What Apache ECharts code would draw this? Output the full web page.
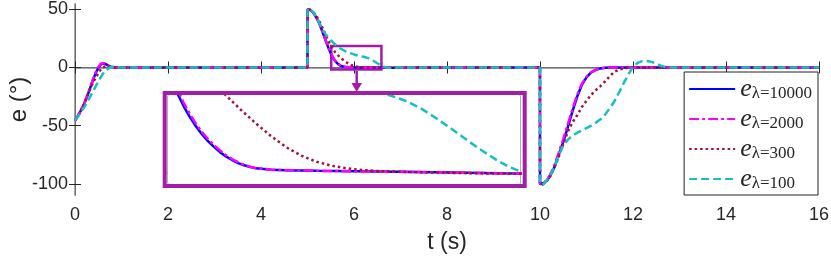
<!DOCTYPE html>
<html>
<head>
<meta charset="utf-8">
<script src="https://cdn.jsdelivr.net/npm/echarts@6/dist/echarts.min.js"></script>
<style>
  html, body { margin: 0; padding: 0; background: #fff; }
  #viz { width: 831px; height: 260px; }
</style>
</head>
<body>
<div id="viz"></div>
<script>
// error e(t) for each lambda: [t (s), e (deg)]
const e10000 = [
  [0, -45.5], [0.05, -42.5], [0.1, -39], [0.15, -35], [0.2, -31], [0.25, -26], [0.3, -20.5], [0.35, -15],
  [0.4, -9.5], [0.45, -4.5], [0.5, -0.5], [0.55, 2.3], [0.6, 3.5], [0.65, 3.2], [0.7, 2.0], [0.75, 0.9],
  [0.8, 0.3], [0.9, 0],
  [4.999, 0], [5, 50], [5.05, 49.5], [5.1, 48], [5.15, 45.5], [5.2, 42], [5.25, 38], [5.3, 33], [5.35, 27.5],
  [5.4, 22], [5.45, 16.8], [5.5, 12.3], [5.52, 10.5], [5.54, 8.9], [5.56, 7.5], [5.58, 6.3], [5.6, 5.25],
  [5.62, 4.35], [5.64, 3.55], [5.66, 2.9], [5.68, 2.3], [5.7, 1.8], [5.72, 1.4], [5.74, 1.05], [5.76, 0.8],
  [5.78, 0.6], [5.8, 0.45], [5.85, 0.3], [5.9, 0.24], [6.0, 0.17], [6.2, 0.08], [6.4, 0], [6.6, -0.12],
  [6.8, -0.15], [7.2, 0],
  [9.999, 0], [10, -100], [10.03, -100.8], [10.1, -99], [10.2, -94.5], [10.3, -86.5], [10.4, -75.5],
  [10.5, -64], [10.6, -51], [10.7, -37.5], [10.8, -25], [10.9, -15], [11.0, -8.5], [11.1, -4.3], [11.2, -2],
  [11.3, -0.8], [11.4, -0.3], [11.5, 0], [16, 0]
];
const e2000 = [
  [0, -45.5], [0.05, -42.3], [0.1, -38.7], [0.15, -34.6], [0.2, -30.5], [0.25, -25.3], [0.3, -19.8], [0.35, -14.2],
  [0.4, -8.8], [0.45, -3.8], [0.5, 0.2], [0.55, 3.0], [0.6, 3.8], [0.65, 3.2], [0.7, 1.8], [0.75, 0.7],
  [0.8, 0.2], [0.9, 0],
  [4.999, 0], [5, 50], [5.05, 49.6], [5.1, 48.2], [5.15, 45.8], [5.2, 42.4], [5.25, 38.5], [5.3, 33.5], [5.35, 28],
  [5.4, 22.6], [5.45, 17.4], [5.5, 12.8], [5.52, 11.0], [5.54, 9.35], [5.56, 7.9], [5.58, 6.65], [5.6, 5.55],
  [5.62, 4.6], [5.64, 3.8], [5.66, 3.1], [5.68, 2.5], [5.7, 1.95], [5.72, 1.5], [5.74, 1.15], [5.76, 0.85],
  [5.78, 0.63], [5.8, 0.47], [5.85, 0.3], [5.9, 0.24], [6.0, 0.17], [6.2, 0.08], [6.4, 0], [6.6, -0.12],
  [6.8, -0.15], [7.2, 0],
  [9.999, 0], [10, -100], [10.03, -100.6], [10.1, -98.5], [10.2, -93.5], [10.3, -85], [10.4, -73.5],
  [10.5, -61.5], [10.6, -48.5], [10.7, -35.5], [10.8, -23.5], [10.9, -14], [11.0, -8], [11.1, -4], [11.2, -1.8],
  [11.3, -0.7], [11.4, -0.2], [11.5, 0], [16, 0]
];
const e300 = [
  [0, -45.5], [0.1, -39.5], [0.2, -31], [0.3, -21], [0.4, -12], [0.5, -5], [0.55, -2], [0.6, 0],
  [0.65, 1.0], [0.7, 1.2], [0.75, 0.8], [0.8, 0.3], [0.9, 0],
  [4.999, 0], [5, 50], [5.05, 49.6], [5.1, 48.3], [5.15, 46.2], [5.2, 43.5], [5.25, 40], [5.3, 36], [5.35, 31.5],
  [5.4, 27], [5.45, 22.7], [5.5, 18.8], [5.55, 15.5], [5.6, 12.8], [5.65, 10.6], [5.7, 8.75], [5.75, 7.1],
  [5.8, 5.55], [5.85, 4.1], [5.9, 2.85], [5.95, 1.9], [6.0, 1.2], [6.05, 0.75], [6.1, 0.45], [6.15, 0.27],
  [6.2, 0.15], [6.3, 0.04], [6.4, -0.03], [6.5, -0.1], [6.68, -0.17], [6.9, -0.1], [7.2, 0],
  [9.999, 0], [10, -100], [10.05, -100.5], [10.1, -99.5], [10.2, -95], [10.3, -87], [10.4, -77], [10.5, -66],
  [10.6, -55], [10.7, -47], [10.8, -41], [10.9, -34], [11.0, -28.5], [11.1, -23.5], [11.2, -19.5], [11.3, -16],
  [11.4, -12], [11.5, -7.5], [11.6, -3.7], [11.7, -1.8], [11.8, -0.8], [11.9, -0.2], [12.0, 0], [16, 0]
];
const e100 = [
  [0, -45.5], [0.1, -40], [0.2, -34], [0.3, -27], [0.4, -19.5], [0.5, -12], [0.6, -5.5], [0.7, -1.5],
  [0.75, 0], [0.8, 0.6], [0.85, 0.5], [0.95, 0.1], [1.05, 0],
  [4.999, 0], [5, 50.5], [5.05, 50], [5.1, 48.5], [5.15, 46], [5.2, 42.5], [5.25, 38.5], [5.3, 34.5], [5.35, 31],
  [5.4, 28], [5.5, 23.5], [5.6, 19.5], [5.7, 16.5], [5.8, 14.2], [5.9, 12.5], [6.0, 11.2], [6.1, 10.1],
  [6.15, 9.6], [6.2, 9.15], [6.25, 8.7], [6.3, 8.1], [6.35, 7.2], [6.4, 6.1], [6.45, 4.9], [6.5, 3.65],
  [6.55, 2.45], [6.6, 1.35], [6.64, 0.6], [6.68, 0.05], [6.72, -0.15], [6.8, -0.2], [6.9, -0.1], [7.0, 0],
  [9.999, 0], [10, -100], [10.05, -100.5], [10.1, -99], [10.2, -94], [10.3, -86], [10.4, -76], [10.5, -67],
  [10.6, -62], [10.7, -58.5], [10.8, -56], [10.9, -54], [11.0, -52], [11.1, -50], [11.2, -47.5], [11.3, -44.5],
  [11.4, -40.5], [11.5, -35], [11.6, -29], [11.7, -21.5], [11.8, -13.5], [11.9, -6], [12.0, 0.5], [12.1, 4],
  [12.2, 5.5], [12.3, 5.6], [12.4, 4.8], [12.5, 3.2], [12.6, 1.5], [12.7, 0.4], [12.8, 0], [16, 0]
];

const names = ['e_λ=10000', 'e_λ=2000', 'e_λ=300', 'e_λ=100'];
const yTicks = [-100, -50, 0, 50];
const insetXTicks = [5.6, 5.7, 5.8, 5.9, 6.0, 6.1, 6.2, 6.3, 6.4, 6.5, 6.6];
const insetYTicks = [0, 2, 6, 8];
// region of the main plot that the inset magnifies
const zoomBoxT = [5.51, 6.59];
const zoomBoxE = [-1.7, 18.4];

const curves = [e10000, e2000, e300, e100];
const styles = [
  { color: '#0000ff', width: 2.5, type: 'solid' },
  { color: '#ff00ff', width: 2.5, type: [10, 3, 3, 3] },
  { color: '#a2142f', width: 2.5, type: [2.5, 3] },
  { color: '#17bfbf', width: 2.5, type: [8, 4] }
];
const purple = '#a31ea8';
const ink = '#262626';

var myChart = echarts.init(document.getElementById('viz'));

const series = [];
curves.forEach((data, i) => {
  series.push({
    name: names[i], type: 'line', data: data, xAxisIndex: 0, yAxisIndex: 0,
    showSymbol: false, symbol: 'none', lineStyle: styles[i], clip: true, z: 2 + i
  });
});
curves.forEach((data, i) => {
  series.push({
    name: names[i], type: 'line', data: data, xAxisIndex: 2, yAxisIndex: 2,
    showSymbol: false, symbol: 'none', lineStyle: styles[i], clip: true, z: 20 + i
  });
});
// zoom box drawn in data coordinates of the main plot
series[3].markArea = {
  silent: true,
  itemStyle: { color: 'rgba(0,0,0,0)', borderColor: purple, borderWidth: 2.5 },
  data: [[{ coord: [zoomBoxT[0], zoomBoxE[1]] }, { coord: [zoomBoxT[1], zoomBoxE[0]] }]]
};

const labelFont = { fontFamily: 'Liberation Sans', fontSize: 18, color: ink };

var option = {
  animation: false,
  backgroundColor: '#fff',
  grid: [
    { left: 75, right: 12, top: 4, bottom: 65, outerBoundsMode: 'none', containLabel: false },
    { left: 168, top: 96, width: 352, height: 87, show: true, backgroundColor: '#fff', borderWidth: 0, z: 10,
      outerBoundsMode: 'none', containLabel: false }
  ],
  legend: {
    orient: 'vertical', right: 13, top: 72,
    backgroundColor: '#fff', borderColor: '#222', borderWidth: 1,
    padding: [4, 6, 3, 4], itemGap: 4, itemWidth: 46, itemHeight: 14,
    data: names, selectedMode: false, z: 30,
    itemStyle: { opacity: 0 },
    formatter: name => {
      const parts = name.split('_');
      return '{e|' + parts[0] + '}{s|' + parts[1] + '}';
    },
    textStyle: {
      color: ink,
      rich: {
        e: { fontFamily: 'Liberation Serif', fontStyle: 'italic', fontSize: 26, lineHeight: 26, verticalAlign: 'bottom' },
        s: { fontFamily: 'Liberation Serif', fontSize: 17, lineHeight: 14, verticalAlign: 'bottom' }
      }
    }
  },
  xAxis: [
    {
      type: 'value', gridIndex: 0, min: 0, max: 16, interval: 2,
      name: 't (s)', nameLocation: 'middle', nameGap: 36,
      nameTextStyle: { fontFamily: 'Liberation Sans', fontSize: 23, color: ink },
      axisLine: { lineStyle: { color: ink, width: 1 } },
      axisTick: { inside: true, length: 6, lineStyle: { color: ink } },
      axisLabel: Object.assign({ margin: 11 }, labelFont),
      splitLine: { show: false }
    },
    {
      type: 'value', gridIndex: 0, position: 'top', min: 0, max: 16, interval: 2,
      axisLine: { lineStyle: { color: '#8a8a8a', width: 1.5 } },
      axisTick: { inside: true, length: 6, lineStyle: { color: ink } },
      axisLabel: { show: false }, splitLine: { show: false }
    },
    {
      type: 'value', gridIndex: 1, min: 5.5075, max: 6.675,
      axisLine: { lineStyle: { color: '#999', width: 1.5 } },
      axisTick: { inside: true, length: 4, customValues: insetXTicks, lineStyle: { color: '#777' } },
      axisLabel: { show: false }, splitLine: { show: false }
    },
    {
      type: 'value', gridIndex: 1, position: 'top', min: 5.5075, max: 6.675,
      axisLine: { lineStyle: { color: '#999', width: 1.5 } },
      axisTick: { inside: true, length: 4, customValues: insetXTicks, lineStyle: { color: '#777' } },
      axisLabel: { show: false }, splitLine: { show: false }
    }
  ],
  yAxis: [
    {
      type: 'value', gridIndex: 0, min: -109.5, max: 54.5,
      name: 'e (°)', nameLocation: 'middle', nameGap: 44, nameMoveOverlap: false,
      nameTextStyle: { fontFamily: 'Liberation Sans', fontSize: 24, color: ink },
      axisLine: { show: true, lineStyle: { color: ink, width: 1 } },
      axisTick: { show: true, inside: true, length: 6, customValues: yTicks, lineStyle: { color: ink } },
      axisLabel: Object.assign({ margin: 7, customValues: yTicks }, labelFont),
      splitLine: { show: false }
    },
    {
      type: 'value', gridIndex: 0, position: 'right', min: -109.5, max: 54.5,
      axisLine: { show: true, lineStyle: { color: '#8a8a8a', width: 1.5 } },
      axisTick: { show: true, inside: true, length: 6, customValues: yTicks, lineStyle: { color: ink } },
      axisLabel: { show: false }, splitLine: { show: false }
    },
    {
      type: 'value', gridIndex: 1, min: -1.22, max: 8.7,
      axisLine: { show: true, lineStyle: { color: '#999', width: 1.5 } },
      axisTick: { show: true, inside: true, length: 4, customValues: insetYTicks, lineStyle: { color: '#777' } },
      axisLabel: { show: false }, splitLine: { show: false }
    },
    {
      type: 'value', gridIndex: 1, position: 'right', min: -1.22, max: 8.7,
      axisLine: { show: true, lineStyle: { color: '#999', width: 1.5 } },
      axisTick: { show: true, inside: true, length: 4, customValues: insetYTicks, lineStyle: { color: '#777' } },
      axisLabel: { show: false }, splitLine: { show: false }
    }
  ],
  graphic: [
    // purple frame round the inset and the arrow pointing to it
    { type: 'rect', z: 40, shape: { x: 164.7, y: 93, width: 360, height: 93 },
      style: { fill: null, stroke: purple, lineWidth: 4 } },
    { type: 'line', z: 40, shape: { x1: 356.7, y1: 71, x2: 356.7, y2: 84 },
      style: { stroke: purple, lineWidth: 2.5 } },
    { type: 'polygon', z: 40, shape: { points: [[351.5, 83], [362, 83], [356.7, 92]] },
      style: { fill: purple } }
  ],
  series: series
};

myChart.setOption(option);
</script>
</body>
</html>
